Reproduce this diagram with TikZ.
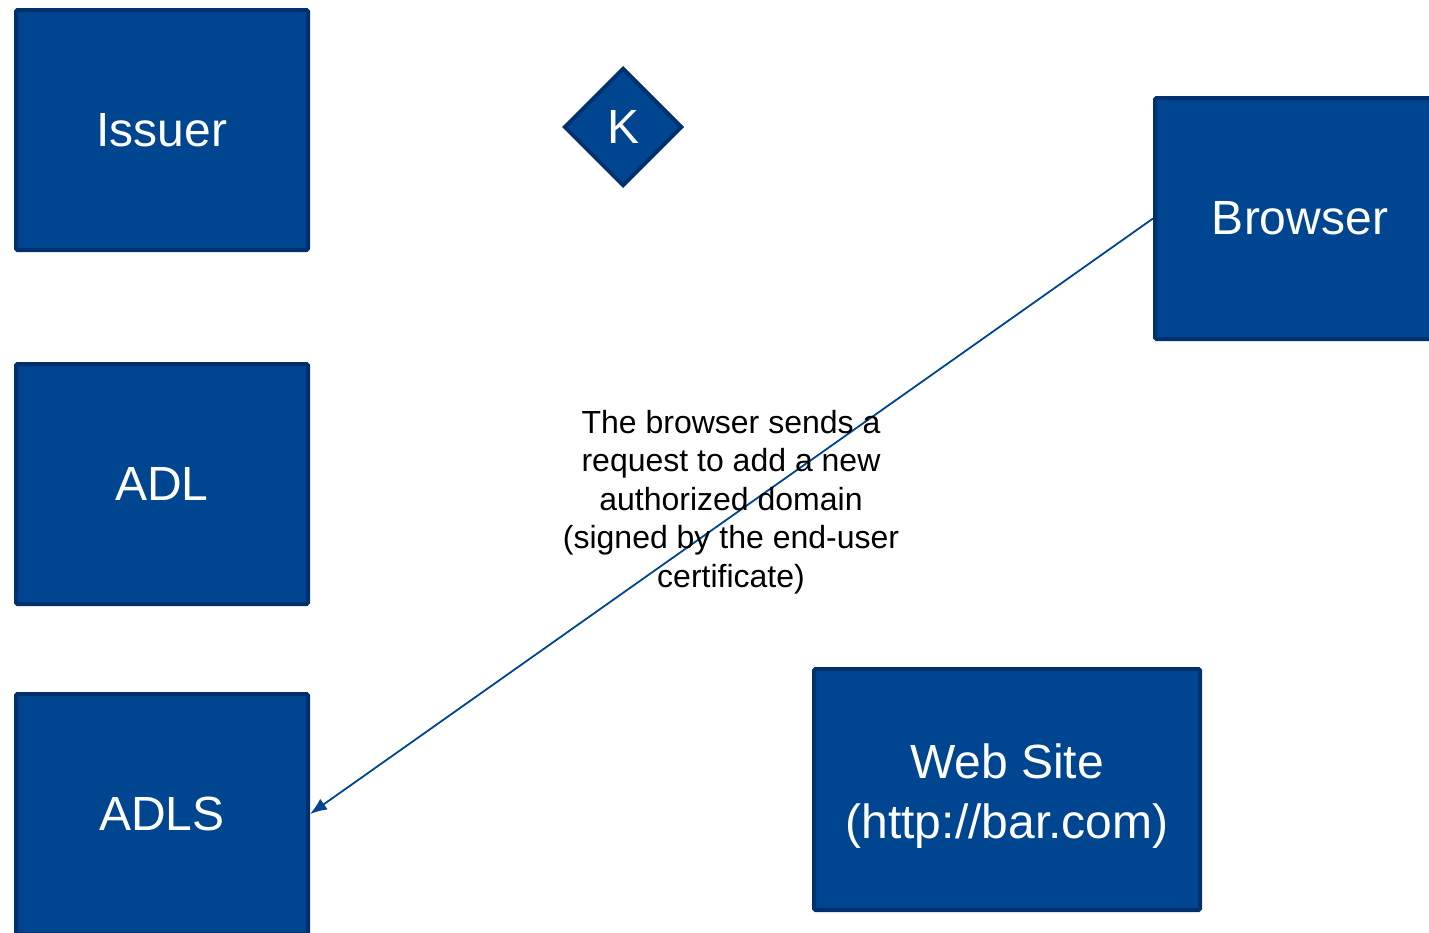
\documentclass[tikz,border=0pt]{standalone}
\usepackage{fontspec}
\setmainfont{Liberation Sans}
\usetikzlibrary{shapes.geometric,arrows.meta}
\definecolor{boxfill}{RGB}{0,69,143}
\definecolor{boxline}{RGB}{0,49,110}
\tikzset{
  entity/.style={draw=boxline, fill=boxfill, line width=4pt, rounded corners=1.5pt,
    text=white, align=center, font=\fontsize{48}{60}\selectfont, inner sep=0pt},
  keynode/.style={diamond, draw=boxline, fill=boxfill, line width=4pt,
    text=white, font=\fontsize{48}{50}\selectfont, minimum width=118pt, minimum height=118pt, inner sep=0pt},
  msg/.style={draw=boxfill, line width=1.8pt, -{Latex[length=17pt,width=13pt]}},
  note/.style={align=center, text=black, font=\fontsize{32}{38.5}\selectfont}
}
\begin{document}
\begin{tikzpicture}[x=1pt,y=-1pt]
\useasboundingbox (0,0) rectangle (1429,932);
\clip (0,0) rectangle (1429,932);
\node[entity, minimum width=292pt, minimum height=240pt] (issuer) at (162,130) {Issuer};
\node[entity, minimum width=292pt, minimum height=240pt] (adl) at (162,484) {ADL};
\node[entity, minimum width=292pt, minimum height=240pt] (adls) at (162,814) {ADLS};
\node[entity, minimum width=290pt, minimum height=241pt] (browser) at (1300,218.5) {Browser};
\node[entity, minimum width=386pt, minimum height=241pt] (web) at (1007,789.5) {\rule{0pt}{48pt}Web Site\\(http://bar.com)};
\node[keynode] (key) at (623,127) {K};
\draw[msg] (browser.west) -- (adls.east);
\node[note] (label) at (731,502) {The browser sends a\\request to add a new\\authorized domain\\(signed by the end-user\\certificate)};
\end{tikzpicture}
\end{document}
